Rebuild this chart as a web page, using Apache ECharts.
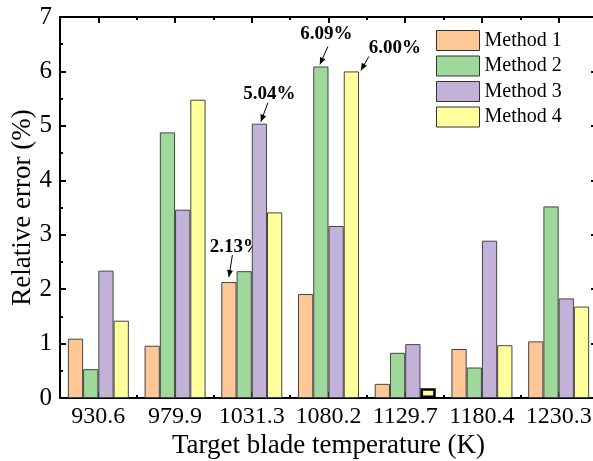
<!DOCTYPE html>
<html>
<head>
<meta charset="utf-8">
<script src="https://cdn.jsdelivr.net/npm/echarts@6/dist/echarts.min.js"></script>
</head>
<body>
<style>
  html, body, #main { margin: 0; width: 593px; height: 461px; background: #fff; }
</style>
<div id="main"></div>
<script>
const temps = ['930.6', '979.9', '1031.3', '1080.2', '1129.7', '1180.4', '1230.3'];
const method1 = [1.09, 0.96, 2.13, 1.91, 0.26, 0.90, 1.04];
const method2 = [0.53, 4.88, 2.33, 6.09, 0.83, 0.56, 3.52];
const method3 = [2.34, 3.46, 5.04, 3.16, 0.99, 2.89, 1.83];
const method4 = [1.42, 5.48, 3.41, 6.00, 0.18, 0.97, 1.68];
const methodNames = ['Method 1', 'Method 2', 'Method 3', 'Method 4'];
const colors = ['#fdc896', '#9fd89b', '#c2b2d7', '#ffff9c'];
// callouts: series index, category index
const callouts = [[0, 2], [2, 2], [1, 3], [3, 3]];
// the bar drawn with a heavy outline: series, category
const heavyBar = [3, 4];

const FONT = 'Liberation Serif';
const allValues = [method1, method2, method3, method4];
var chart = echarts.init(document.getElementById('main'));

const allSeries = allValues.map(function (vals, s) {
  return {
    name: methodNames[s],
    type: 'bar',
    xAxisIndex: 0,
    yAxisIndex: 0,
    barGap: '0%',
    barCategoryGap: '20.5%',
    itemStyle: { color: colors[s], borderColor: '#444', borderWidth: 1 },
    data: vals.map(function (v, i) {
      if (s === heavyBar[0] && i === heavyBar[1]) {
        return { value: v, itemStyle: { borderColor: '#000', borderWidth: 2.5 } };
      }
      return v;
    })
  };
});

function catAxis(pos, centerTicks, len, showLine, showLabel) {
  return {
    type: 'category',
    position: pos,
    data: temps,
    axisLine: { show: showLine, onZero: false, lineStyle: { color: '#000', width: 2 } },
    axisTick: { show: true, inside: true, alignWithLabel: centerTicks, interval: 0, length: len, lineStyle: { color: '#000', width: 2 } },
    axisLabel: { show: showLabel, interval: 0, color: '#000', fontFamily: FONT, fontSize: 24, margin: 7 },
    splitLine: { show: false }
  };
}

var option = {
  animation: false,
  grid: { left: 60, top: 17, width: 537, bottom: 63, containLabel: false, outerBoundsMode: 'none' },
  legend: {
    data: methodNames,
    left: 431,
    top: 25,
    orient: 'vertical',
    itemWidth: 43,
    itemHeight: 20,
    itemGap: 4.5,
    icon: 'rect',
    itemStyle: { borderColor: '#333', borderWidth: 1 },
    textStyle: { fontFamily: FONT, fontSize: 20, color: '#000' }
  },
  xAxis: [
    Object.assign(catAxis('bottom', true, 6, true, true), {
      name: 'Target blade temperature (K)',
      nameLocation: 'middle',
      nameGap: 34,
      nameMoveOverlap: false,
      nameTextStyle: { fontFamily: FONT, fontSize: 27, color: '#000' }
    }),
    catAxis('bottom', false, 3, false, false),
    catAxis('top', true, 6, true, false),
    catAxis('top', false, 3, false, false)
  ],
  yAxis: [
    {
      type: 'value',
      min: 0, max: 7, interval: 1,
      name: 'Relative error (%)',
      nameLocation: 'middle',
      nameGap: 24,
      nameMoveOverlap: false,
      nameTextStyle: { fontFamily: FONT, fontSize: 27, color: '#000' },
      axisLine: { show: true, lineStyle: { color: '#000', width: 2 } },
      axisTick: { show: true, inside: true, length: 6, lineStyle: { color: '#000', width: 2 } },
      minorTick: { show: true, splitNumber: 2, length: 3, lineStyle: { color: '#000', width: 2 } },
      axisLabel: { color: '#000', fontFamily: FONT, fontSize: 25, margin: 8 },
      splitLine: { show: false }
    },
    {
      type: 'value',
      position: 'right',
      min: 0, max: 7, interval: 1,
      axisLine: { show: true, lineStyle: { color: '#000', width: 2 } },
      axisTick: { show: true, inside: true, length: 6, lineStyle: { color: '#000', width: 2 } },
      minorTick: { show: true, splitNumber: 2, length: 3, lineStyle: { color: '#000', width: 2 } },
      axisLabel: { show: false },
      splitLine: { show: false }
    }
  ],
  series: allSeries
};
chart.setOption(option);

// callout offsets relative to the top centre of each bar:
// text centre, arrow start, arrow tip
const calloutStyle = [
  { text: [7, -35], from: [3.5, -27], to: [0, -5] },
  { text: [10, -30], from: [8.5, -21], to: [1.5, -2] },
  { text: [5.5, -32], from: [7, -20], to: [-1, -2] },
  { text: [43.5, -23], from: [17.5, -15], to: [9.5, -1] }
];

var graphics = [];
callouts.forEach(function (c, k) {
  var data = chart.getModel().getSeriesByIndex(c[0]).getData();
  var lay = data.getItemLayout(c[1]);
  var cx = lay.x + lay.width / 2;
  var top = Math.min(lay.y, lay.y + lay.height);
  var st = calloutStyle[k];
  var val = allValues[c[0]][c[1]];
  graphics.push({
    type: 'text',
    x: cx + st.text[0], y: top + st.text[1],
    style: {
      text: val.toFixed(2) + '%', fill: '#000',
      font: 'bold 19px "Liberation Serif"',
      align: 'center', verticalAlign: 'middle'
    }
  });
  var x1 = cx + st.from[0], y1 = top + st.from[1];
  var x2 = cx + st.to[0], y2 = top + st.to[1];
  graphics.push({
    type: 'line',
    shape: { x1: x1, y1: y1, x2: x2, y2: y2 },
    style: { stroke: '#000', lineWidth: 1 }
  });
  var ang = Math.atan2(y2 - y1, x2 - x1);
  var hl = 7, hw = 3;
  var bx = x2 - hl * Math.cos(ang), by = y2 - hl * Math.sin(ang);
  graphics.push({
    type: 'polygon',
    shape: { points: [
      [x2, y2],
      [bx + hw * Math.sin(ang), by - hw * Math.cos(ang)],
      [bx - hw * Math.sin(ang), by + hw * Math.cos(ang)]
    ] },
    style: { fill: '#000' }
  });
});
chart.setOption({ graphic: graphics });
</script>
</body>
</html>
